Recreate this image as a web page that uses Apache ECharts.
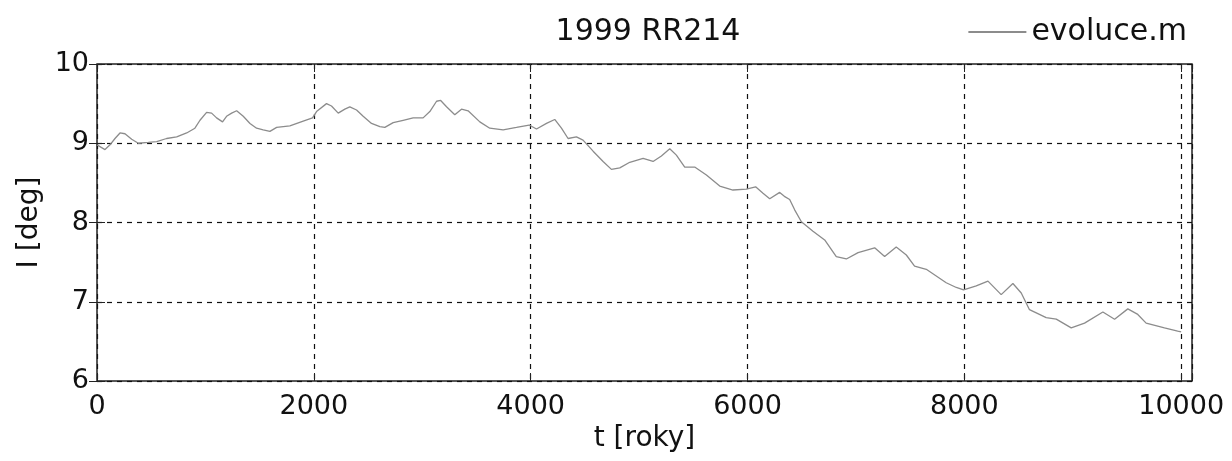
<!DOCTYPE html>
<html><head><meta charset="utf-8">
<script src="https://cdn.jsdelivr.net/npm/echarts@6/dist/echarts.min.js"></script>
<style>html,body{margin:0;padding:0;background:#fff}#c{width:1232px;height:461px}</style>
</head><body><div id="c"></div>
<script>
const titleText = '1999 RR214';
const seriesName = 'evoluce.m';
const xName = 't [roky]';
const yName = 'I [deg]';
const years = [0,74,120,166,212,258,320,381,473,550,642,735,827,903,950,1011,1057,1103,1158,1195,1242,1288,1349,1411,1472,1533,1595,1657,1779,1902,1988,2025,2117,2163,2225,2286,2332,2394,2455,2532,2609,2655,2732,2824,2916,3008,3070,3132,3170,3224,3300,3362,3423,3531,3623,3746,3869,3986,4054,4146,4222,4284,4345,4422,4483,4576,4668,4745,4822,4914,5037,5129,5206,5283,5344,5421,5513,5621,5744,5866,5990,6075,6143,6205,6297,6340,6389,6435,6497,6604,6712,6819,6912,7020,7173,7265,7372,7465,7541,7649,7833,7926,7993,8110,8218,8340,8448,8525,8601,8755,8848,8986,9109,9278,9386,9508,9600,9677,9846,9968,10000];
const incl = [8.98,8.92,8.98,9.06,9.13,9.12,9.05,9.00,9.01,9.02,9.06,9.08,9.13,9.19,9.29,9.39,9.38,9.32,9.27,9.34,9.38,9.41,9.34,9.25,9.19,9.17,9.15,9.20,9.22,9.28,9.32,9.40,9.50,9.47,9.38,9.43,9.46,9.42,9.34,9.25,9.21,9.20,9.26,9.29,9.32,9.32,9.40,9.53,9.54,9.46,9.36,9.43,9.41,9.27,9.19,9.17,9.20,9.23,9.18,9.25,9.30,9.19,9.06,9.08,9.04,8.90,8.77,8.67,8.69,8.76,8.81,8.77,8.84,8.93,8.85,8.70,8.70,8.60,8.46,8.41,8.42,8.45,8.37,8.30,8.38,8.33,8.29,8.16,8.01,7.89,7.78,7.57,7.54,7.62,7.68,7.57,7.69,7.59,7.45,7.41,7.24,7.18,7.15,7.20,7.26,7.09,7.23,7.11,6.90,6.80,6.78,6.67,6.73,6.87,6.78,6.91,6.84,6.73,6.67,6.63,6.62];
const xTicks = [0,2000,4000,6000,8000,10000];
const yTicks = [6,7,8,9,10];

const font = 'DejaVu Sans';
const chart = echarts.init(document.getElementById('c'), null, {renderer:'canvas'});
const data = years.map((t,i)=>[t,incl[i]]);
chart.setOption({
  animation:false,
  backgroundColor:'#fff',
  title:{text:titleText,left:643,top:12,textAlign:'center',textStyle:{fontFamily:font,fontSize:30,fontWeight:'normal',color:'#111'}},
  legend:{right:40,top:12,itemWidth:58,itemHeight:2,itemGap:10,icon:'rect',
    textStyle:{fontFamily:font,fontSize:30,color:'#111'},data:[{name:seriesName,icon:'rect',itemStyle:{color:'#8c8c8c'}}]},
  grid:{left:97,right:40,top:64,bottom:80,show:true,borderColor:'#222',borderWidth:1.5,backgroundColor:'#fff'},
  xAxis:[{type:'value',min:0,max:10100,interval:2000,
    name:xName,nameLocation:'middle',nameGap:44,nameTextStyle:{fontFamily:font,fontSize:28,color:'#111'},
    axisLine:{show:false},axisTick:{show:true,inside:true,length:8,lineStyle:{color:'#222'}},
    axisLabel:{fontFamily:font,fontSize:27,color:'#111',margin:12,showMaxLabel:true,
      formatter:v=>xTicks.indexOf(v)>=0?String(v):''},
    splitLine:{show:true,lineStyle:{color:'#111',type:[5,5],width:1.2}}},
   {type:'value',position:'top',min:0,max:10100,interval:2000,axisLine:{show:false},axisLabel:{show:false},
    axisTick:{show:true,inside:true,length:8,lineStyle:{color:'#222'}},splitLine:{show:false}}],
  yAxis:[{type:'value',min:6,max:10,interval:1,
    name:yName,nameLocation:'middle',nameGap:52,nameTextStyle:{fontFamily:font,fontSize:28,color:'#111'},
    axisLine:{show:false},axisTick:{show:true,inside:true,length:8,lineStyle:{color:'#222'}},
    axisLabel:{fontFamily:font,fontSize:27,color:'#111',margin:8,formatter:v=>yTicks.indexOf(v)>=0?String(v):''},
    splitLine:{show:true,lineStyle:{color:'#111',type:[5,5],width:1.2}}},
   {type:'value',position:'right',min:6,max:10,interval:1,axisLine:{show:false},axisLabel:{show:false},
    axisTick:{show:true,inside:true,length:8,lineStyle:{color:'#222'}},splitLine:{show:false}}],
  series:[{name:seriesName,type:'line',data:data,showSymbol:false,symbol:'none',
    lineStyle:{color:'#8c8c8c',width:1.3},itemStyle:{color:'#8c8c8c'}}]
});
</script></body></html>
